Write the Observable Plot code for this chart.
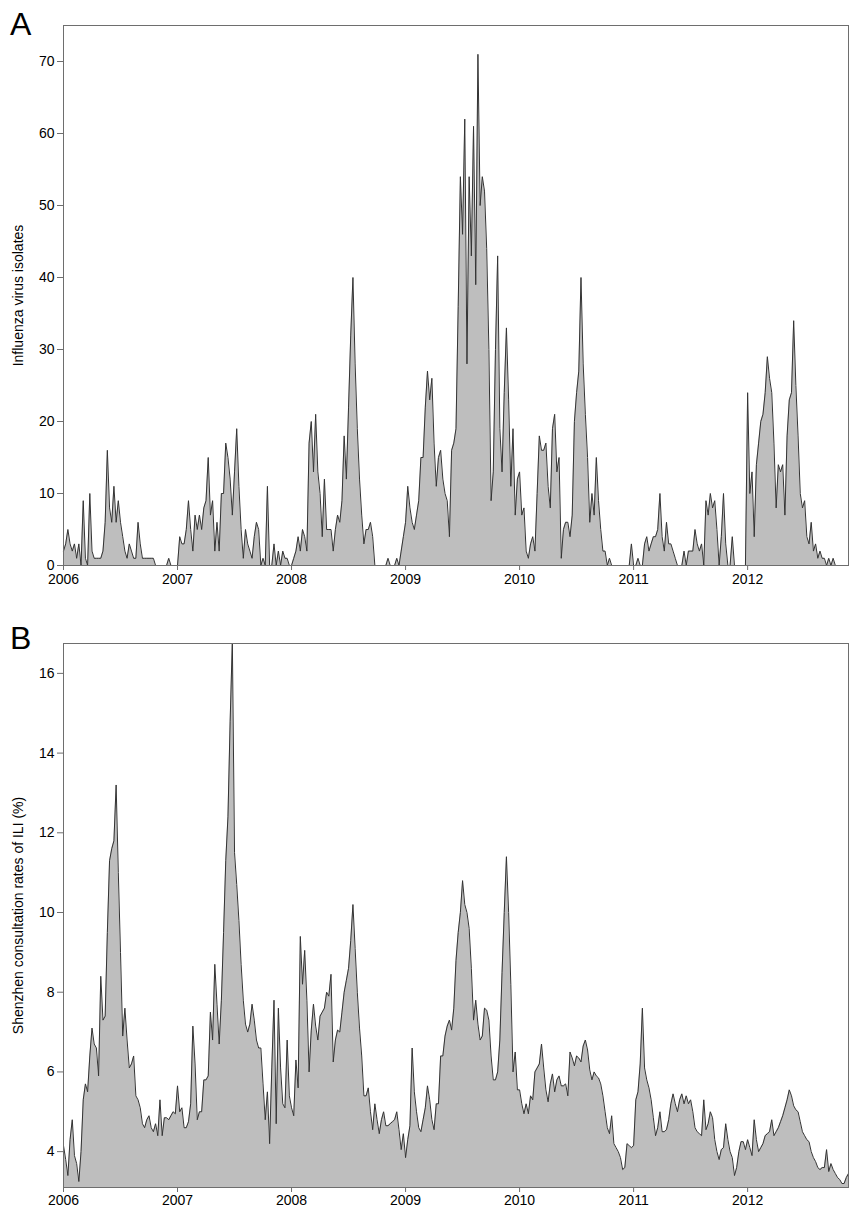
<!DOCTYPE html>
<html>
<head>
<meta charset="utf-8">
<script src="https://cdn.jsdelivr.net/npm/d3@7"></script>
<script src="https://cdn.jsdelivr.net/npm/@observablehq/plot@0.6"></script>
<style>
  html, body { margin: 0; padding: 0; background: #fff; }
  #fig { position: relative; width: 850px; height: 1209px; font-family: "Liberation Sans", Arial, sans-serif; }
  .panel { position: absolute; left: 0; }
  .tag { position: absolute; left: 10px; font-size: 32px; line-height: 1; color: #000; font-family: "Liberation Sans", Arial, sans-serif; }
</style>
</head>
<body>
<div id="fig">
  <div class="panel" id="panelA" style="top:0px"></div>
  <div class="panel" id="panelB" style="top:600px"></div>
  <div class="tag" style="top:8px">A</div>
  <div class="tag" style="top:622px">B</div>
</div>
<script>
// ---- tick labels ----
const yearTicks = [2006, 2007, 2008, 2009, 2010, 2011, 2012];
const isolateTicks = [0, 10, 20, 30, 40, 50, 60, 70];
const iliTicks = [4, 6, 8, 10, 12, 14, 16];

// ---- Panel A: weekly influenza virus isolates ----
const isolates2006 = [2,3,5,3,2,3,1,3,0,9, 1,0,10,2,1,1,1,1,2,6, 16,8,6,11,6,9,6,4,2,1, 3,2,1,1,6,3,1,1,1,1, 1,1,0,0,0,0,0,0,1,0, 0,0];
const isolates2007 = [0,4,3,3,5,9,5,2,7,5, 7,5,8,9,15,7,9,2,6,2, 10,10,17,15,12,7,13,19,11,5, 1,5,3,2,1,4,6,5,0,1, 0,11,0,0,3,0,2,0,2,1, 1,0];
const isolates2008 = [0,1,2,4,2,5,4,2,17,20, 13,21,13,10,4,12,5,5,5,2, 5,7,6,9,18,12,22,32,40,28, 19,12,7,3,5,5,6,4,0,0, 0,0,0,0,1,0,0,0,1,0, 2,4];
const isolates2009 = [6,11,8,6,5,7,9,15,15,22, 27,23,26,17,11,15,16,12,10,9, 4,16,17,19,36,54,46,62,28,54, 43,61,39,71,50,54,52,44,30,9, 13,30,43,19,13,24,33,23,11,19, 7,12];
const isolates2010 = [13,7,8,2,1,3,4,2,10,18, 16,16,17,11,8,19,21,13,15,1, 5,6,6,4,7,20,24,27,40,28, 21,15,6,10,7,15,9,5,2,2, 0,1,0,0,0,0,0,0,0,0, 0,3];
const isolates2011 = [0,0,1,0,0,3,4,2,3,4, 4,5,10,4,2,6,3,3,2,1, 0,0,0,2,0,2,2,2,5,3, 2,3,0,9,7,10,8,9,5,0, 4,10,3,0,0,4,0,0,0,0, 0,0];
const isolates2012 = [24,10,13,4,14,17,20,21,24,29, 26,24,17,8,14,13,14,7,18,23, 24,34,25,18,10,8,9,4,3,6, 2,3,1,2,1,1,0,1,0,1, 0,0,0,0,0,0,0];

// ---- Panel B: weekly ILI consultation rate (%) ----
const ili2006 = [4.15,3.8,3.4,4.3,4.8,3.9,3.7,3.25,4.0,5.3, 5.7,5.5,6.4,7.1,6.7,6.6,5.9,8.4,7.3,7.4, 9.5,11.3,11.6,11.8,13.2,11.0,9.0,6.9,7.6,6.8, 6.1,6.2,6.4,5.4,5.3,5.1,4.7,4.6,4.8,4.9, 4.6,4.5,4.7,4.4,5.3,4.4,4.85,4.85,4.8,4.9, 5.0,4.95];
const ili2007 = [5.65,5.0,5.1,4.6,4.6,4.75,5.2,7.15,6.2,4.8, 5.0,5.0,5.8,5.8,5.9,7.5,6.8,8.7,7.7,6.7, 7.8,9.5,11.3,12.4,14.8,16.8,11.5,10.7,9.8,8.7, 7.8,7.2,7.0,7.2,7.7,7.3,6.8,6.6,6.6,5.7, 4.8,5.5,4.2,6.1,7.8,4.7,7.6,6.1,5.2,5.1, 6.8,5.4];
const ili2008 = [5.1,4.9,6.3,5.6,9.4,8.2,9.05,7.8,6.0,7.05, 7.7,7.15,6.8,7.4,7.5,7.6,8.0,7.9,8.45,6.25, 6.8,7.05,7.0,7.5,8.0,8.3,8.6,9.3,10.2,9.1, 8.0,7.1,6.4,5.4,5.4,5.6,5.0,4.55,5.2,4.8, 4.45,4.8,5.0,4.65,4.65,4.7,4.75,4.8,5.0,4.55, 4.05,4.45];
const ili2009 = [3.85,4.3,4.65,6.6,5.5,5.0,4.6,4.5,4.8,5.1, 5.65,5.3,4.8,4.55,5.2,5.2,6.4,6.4,6.9,7.15, 7.3,7.05,7.6,8.8,9.5,10.0,10.8,10.2,10.0,9.6, 8.6,7.3,7.8,7.2,6.8,6.9,7.6,7.55,7.3,6.4, 5.8,5.8,6.0,6.8,8.5,10.0,11.4,10.0,8.2,6.0, 6.5,5.55];
const ili2010 = [5.55,5.2,4.95,5.2,4.95,5.4,5.3,6.0,6.1,6.2, 6.7,6.1,5.55,5.25,5.7,5.95,5.5,5.8,5.9,5.65, 5.65,5.7,5.4,6.5,6.35,6.15,6.4,6.35,6.25,6.65, 6.8,6.55,6.05,5.8,6.0,5.9,5.85,5.7,5.4,5.0, 4.6,4.45,4.9,4.2,4.1,4.0,3.85,3.55,3.6,4.2, 4.15,4.1];
const ili2011 = [4.15,5.3,5.5,6.2,7.6,6.1,5.8,5.6,5.3,4.85, 4.4,4.6,5.0,4.5,4.5,4.55,4.8,5.2,5.45,5.2, 5.0,5.3,5.45,5.2,5.4,5.2,5.3,5.0,4.6,4.5, 4.45,4.4,5.3,4.55,4.7,5.0,4.85,4.3,4.0,3.8, 4.05,4.1,4.7,4.3,4.0,3.85,3.4,3.6,4.0,4.25, 4.25,4.05];
const ili2012 = [4.3,4.1,3.9,4.8,4.3,4.0,4.1,4.2,4.4,4.45, 4.5,4.8,4.4,4.5,4.6,4.75,4.9,5.1,5.3,5.55, 5.4,5.15,5.05,5.0,4.75,4.5,4.4,4.3,4.25,4.0, 3.85,3.75,3.6,3.55,3.6,3.6,4.05,3.5,3.7,3.55, 3.45,3.35,3.3,3.2,3.2,3.35,3.45];

// ---- build weekly tables (x = decimal year, week index / 52) ----
function weekly(byYear) {
  const out = [];
  byYear.forEach(([year, vals]) => vals.forEach((v, w) => out.push({t: year + w / 52, v})));
  return out;
}
const dataA = weekly([[2006, isolates2006],[2007, isolates2007],[2008, isolates2008],[2009, isolates2009],[2010, isolates2010],[2011, isolates2011],[2012, isolates2012]]);
const dataB = weekly([[2006, ili2006],[2007, ili2007],[2008, ili2008],[2009, ili2009],[2010, ili2010],[2011, ili2011],[2012, ili2012]]);

const xDomain = [2006, d3.max(dataA, d => d.t)];
const font = {fontFamily: "Liberation Sans, Arial, sans-serif", fontSize: "14px", color: "#000", background: "#fff", overflow: "visible"};
const fillGray = "#bebebe";
const lineCol = "#333333";
const frameCol = "#6e6e6e";

const yMinB = 3.1;

const plotA = Plot.plot({
  width: 850, height: 600,
  marginTop: 25, marginBottom: 35, marginLeft: 63, marginRight: 2,
  style: font,
  x: {domain: xDomain},
  y: {domain: [0, 75]},
  marks: [
    Plot.areaY(dataA, {x: "t", y: "v", fill: fillGray}),
    Plot.lineY(dataA, {x: "t", y: "v", stroke: lineCol, strokeWidth: 1}),
    Plot.frame({stroke: frameCol}),
    Plot.axisX({ticks: yearTicks, tickFormat: "d", tickSize: 5, tickPadding: 4, label: null, stroke: frameCol}),
    Plot.axisY({ticks: isolateTicks, tickSize: 6, tickPadding: 3, label: "Influenza virus isolates", labelAnchor: "center", labelArrow: "none", labelOffset: 50, stroke: frameCol})
  ]
});

const plotB = Plot.plot({
  width: 850, height: 609,
  marginTop: 43, marginBottom: 22, marginLeft: 63, marginRight: 2,
  style: font,
  x: {domain: xDomain},
  y: {domain: [yMinB, 16.75]},
  marks: [
    Plot.areaY(dataB, {x: "t", y1: () => yMinB, y2: "v", fill: fillGray, clip: true}),
    Plot.lineY(dataB, {x: "t", y: "v", stroke: lineCol, strokeWidth: 1, clip: true}),
    Plot.frame({stroke: frameCol}),
    Plot.axisX({ticks: yearTicks, tickFormat: "d", tickSize: 5, tickPadding: 3, label: null, stroke: frameCol}),
    Plot.axisY({ticks: iliTicks, tickSize: 6, tickPadding: 3, label: "Shenzhen consultation rates of ILI (%)", labelAnchor: "center", labelArrow: "none", labelOffset: 50, stroke: frameCol})
  ]
});

document.getElementById("panelA").appendChild(plotA);
document.getElementById("panelB").appendChild(plotB);
</script>
</body>
</html>
